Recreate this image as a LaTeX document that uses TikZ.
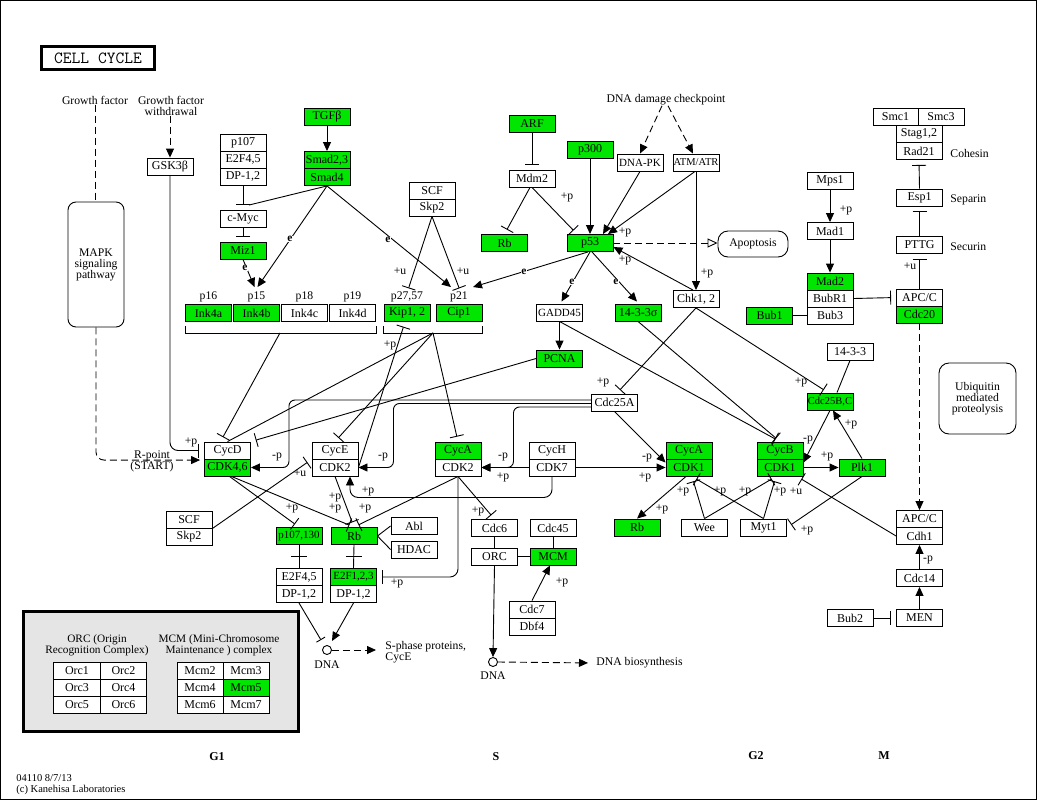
\documentclass[tikz,border=0pt]{standalone}
\usepackage{fontspec}
\setmainfont{Liberation Serif}
\usetikzlibrary{arrows.meta,calc}
\definecolor{keggreen}{RGB}{0,230,0}
\tikzset{
  gene/.style = {draw, fill = white, minimum width = 46, minimum height = 17, inner sep = 0, font = \fontsize{12}{12}\selectfont},
  hit/.style = {gene, fill = keggreen},
  snug/.style = {font = \fontsize{11}{11}\selectfont},
  tight/.style = {font = \fontsize{10.5}{10.5}\selectfont},
  txt/.style = {inner sep = 0, align = center, font = \fontsize{11.7}{11}\selectfont},
  lbl/.style = {inner sep = 0.5, font = \fontsize{11.7}{11.7}\selectfont},
  hub/.style = {draw, rounded corners = 10, align = center, inner sep = 0, font = \fontsize{11.7}{11}\selectfont},
  act/.style = {-{Triangle[length = 9pt, width = 8pt]}},
  inh/.style = {-{Bar[width = 14pt]}, shorten > = 5pt},
  dsh/.style = {dash pattern = on 7pt off 4pt}
}
\begin{document}
\begin{tikzpicture}[x = 1pt, y = -1pt, line width = 0.9pt]
\useasboundingbox (0,0) rectangle (1039,801);
\draw (0.5,0.5) rectangle (1036.5,799.5);
\node[draw, line width = 3pt, minimum width = 113, minimum height = 23, font = \ttfamily\fontsize{17}{17}\selectfont] (title) at (98,58) {CELL CYCLE};
% inputs
\node[txt] (gf) at (95,100) {Growth factor};
\node[txt] (gfw) at (171,105.5) {Growth factor\\withdrawal};
\node[hub, rounded corners = 8, minimum width = 56, minimum height = 125] (mapk) at (96,264.5) {MAPK\\signaling\\pathway};
\node[gene] (gsk) at (170,166.5) {GSK3β};
\node[txt] (rpt) at (152,461) {R-point\\(START)};
\node[gene] (p107a) at (243,142.5) {p107};
\node[gene] (e2f45a) at (243,159.5) {E2F4,5};
\node[gene] (dp12a) at (243,176.5) {DP-1,2};
\node[gene] (cmyc) at (243,219) {c-Myc};
\node[hit] (miz1) at (243,250.5) {Miz1};
\node[hit] (tgfb) at (327,117) {TGFβ};
\node[hit] (smad23) at (327,160) {Smad2,3};
\node[hit] (smad4) at (327,177) {Smad4};
% p53 module
\node[txt] (dnadmg) at (666,100) {DNA damage checkpoint};
\node[hit] (arf) at (532,123.5) {ARF};
\node[gene] (mdm2) at (532,178.5) {Mdm2};
\node[hit] (rbu) at (504.5,243) {Rb};
\node[hit] (p300) at (590,149.5) {p300};
\node[hit] (p53) at (590,243) {p53};
\node[gene, snug] (dnapk) at (640,162.5) {DNA-PK};
\node[gene, tight] (atm) at (696,162.5) {ATM/ATR};
\node[hub, minimum width = 70, minimum height = 26] (apop) at (753,244) {Apoptosis};
\node[gene] (scfu) at (432,190.5) {SCF};
\node[gene] (skp2u) at (432,207.5) {Skp2};
\foreach \n/\t/\s/\l [count = \i from 0] in {ink4a/Ink4a/hit/p16, ink4b/Ink4b/hit/p15, ink4c/Ink4c/gene/p18, ink4d/Ink4d/gene/p19}
  {\node[\s] (\n) at ({208.5+48*\i},313) {\t};
   \node[txt] (l\n) at ({208.5+48*\i},297) {\l};}
\node[hit] (kip12) at (407,313) {Kip1, 2};
\node[hit] (cip1) at (459,313) {Cip1};
\node[txt] (lkip12) at (407,297) {p27,57};
\node[txt] (lcip1) at (459,297) {p21};
\node[gene, snug] (gadd45) at (559.5,312.5) {GADD45};
\node[hit] (s1433) at (638,312.5) {14-3-3σ};
\node[gene] (chk12) at (696,299) {Chk1, 2};
\node[hit] (pcna) at (559.5,358.5) {PCNA};
% spindle checkpoint and cohesin
\node[gene] (mps1) at (830,181) {Mps1};
\node[gene] (mad1) at (830,231) {Mad1};
\node[hit] (mad2) at (830,281.5) {Mad2};
\node[gene] (bubr1) at (830,298.5) {BubR1};
\node[gene] (bub3) at (830,315.5) {Bub3};
\node[hit] (bub1) at (769.5,315.5) {Bub1};
\node[gene, minimum width = 45] (smc1) at (895.5,117) {Smc1};
\node[gene] (smc3) at (941,117) {Smc3};
\node[gene] (stag) at (919,134) {Stag1,2};
\node[gene] (rad21) at (919,151) {Rad21};
\node[gene] (esp1) at (919.5,197.5) {Esp1};
\node[gene] (pttg) at (919.5,245) {PTTG};
\node[gene] (apcc) at (919.5,297.5) {APC/C};
\node[hit] (cdc20) at (919.5,314.5) {Cdc20};
\node[txt, anchor = west] (cohesin) at (950,153) {Cohesin};
\node[txt, anchor = west] (separin) at (950,200) {Separin};
\node[txt, anchor = west] (securin) at (950,247) {Securin};
\node[hub, minimum width = 77, minimum height = 71] (ubiq) at (977.5,398.5) {Ubiquitin\\mediated\\proteolysis};
% CDK complexes
\node[gene] (cdc25a) at (614.5,402.5) {Cdc25A};
\node[gene] (s1433b) at (850,351.5) {14-3-3};
\node[hit, tight] (cdc25bc) at (830,401.5) {Cdc25B,C};
\node[gene] (cycd) at (227.5,450.5) {CycD};
\node[hit] (cdk46) at (227.5,467.5) {CDK4,6};
\node[gene] (cyce) at (335,450.5) {CycE};
\node[gene] (cdk2e) at (335,467.5) {CDK2};
\node[hit] (cyca) at (458,450.5) {CycA};
\node[gene] (cdk2a) at (458,467.5) {CDK2};
\node[gene] (cych) at (552,450.5) {CycH};
\node[gene] (cdk7) at (552,467.5) {CDK7};
\node[hit] (cyca1) at (689,450.5) {CycA};
\node[hit] (cdk1a) at (689,467.5) {CDK1};
\node[hit] (cycb) at (780,450.5) {CycB};
\node[hit] (cdk1b) at (780,467.5) {CDK1};
\node[hit] (plk1) at (862,467.5) {Plk1};
\node[gene] (apcc2) at (919.5,519) {APC/C};
\node[gene] (cdh1) at (919.5,536) {Cdh1};
\node[gene] (cdc14) at (919.5,578) {Cdc14};
\node[gene] (men) at (919.5,618) {MEN};
\node[gene] (bub2) at (850,618) {Bub2};
% G1/S targets
\node[gene] (scfl) at (189,519.5) {SCF};
\node[gene] (skp2l) at (189,536.5) {Skp2};
\node[hit, snug] (p107) at (299,536) {p107,130};
\node[hit] (rbl) at (354,536) {Rb};
\node[gene] (abl) at (414,526) {Abl};
\node[gene] (hdac) at (414,549.5) {HDAC};
\node[gene] (e2f45) at (299,577) {E2F4,5};
\node[gene] (dp12b) at (299,594) {DP-1,2};
\node[hit, snug] (e2f123) at (353.5,577) {E2F1,2,3};
\node[gene] (dp12c) at (353.5,594) {DP-1,2};
\node[gene] (cdc6) at (494.5,528) {Cdc6};
\node[gene] (cdc45) at (553,528) {Cdc45};
\node[gene] (orc) at (494.5,556.5) {ORC};
\node[hit] (mcm) at (553,556.5) {MCM};
\node[gene] (cdc7) at (532,609.5) {Cdc7};
\node[gene] (dbf4) at (532,626.5) {Dbf4};
\node[hit] (rbr) at (637,527.5) {Rb};
\node[gene] (wee) at (704.5,527.5) {Wee};
\node[gene] (myt1) at (763.5,527.5) {Myt1};
\node[draw, circle, fill = white, minimum size = 9, inner sep = 0] (dna1) at (327,650) {};
\node[txt] (dnat1) at (327,665) {DNA};
\node[txt, anchor = west, align = left] (sph) at (385,652) {S-phase proteins,\\CycE};
\node[draw, circle, fill = white, minimum size = 9, inner sep = 0] (dna2) at (493,662) {};
\node[txt] (dnat2) at (493,676) {DNA};
\node[txt, anchor = west] (dnabio) at (596,663) {DNA biosynthesis};
% connectors: inputs
\draw[dsh] (gf.south) -- (gf.south |- mapk.north);
\draw[dsh, act] (gsk.north |- gfw.south) -- (gsk.north);
\draw[dsh, act, rounded corners = 8, shorten > = 4pt] (mapk.south) |- ([yshift = -1.5pt]cdk46.north west);
\draw[inh, rounded corners = 8] (gsk.south) |- (cycd.west);
\draw[inh] (dp12a.south) -- (cmyc.north);
\draw (smad4.south) -- ([xshift = 6pt, yshift = 5pt]cmyc.north);
\draw[inh] (cmyc.south) -- (miz1.north);
\draw[act] (tgfb.south) -- (smad23.north);
\draw[act] (miz1.south) -- ([xshift = -2pt, yshift = 17pt]ink4b.north);
\draw[act] (smad4.south) -- ([xshift = 1pt, yshift = 17pt]ink4b.north);
\draw[act] (smad4.south) -- ([xshift = -8pt, yshift = 17pt]cip1.north);
% connectors: p53 module
\draw[inh] (arf.south) -- (mdm2.north);
\draw[inh] ([xshift = -2pt]mdm2.south) -- (rbu.north);
\draw[inh] (mdm2.south) -- ([xshift = -13pt]p53.north);
\draw[act] (p300.south) -- (p53.north);
\draw[act] (dnapk.south) -- ([xshift = 13pt]p53.north);
\draw[act] ([xshift = -1pt]atm.south) -- ([xshift = 18pt]p53.north);
\draw[act] (atm.south) -- (chk12.north);
\draw[dsh, act] ([xshift = -4pt]dnadmg.south) -- (dnapk.north);
\draw[dsh, act] ([xshift = 2pt]dnadmg.south) -- ([xshift = -3pt]atm.north);
\draw[act] ([xshift = -3pt]chk12.north) -- ([yshift = -4pt]p53.east);
\draw[dsh, -{Triangle[open, length = 10pt, width = 9pt]}] (p53.east) -- (p53.east -| apop.west);
\draw[act] ([xshift = -2pt]p53.south) -- ([xshift = 14pt, yshift = 17pt]cip1.north);
\draw[act] (p53.south) -- ([xshift = 2pt, yshift = 2pt]gadd45.north);
\draw[act] ([xshift = 2pt]p53.south) -- ([xshift = -1pt, yshift = 2pt]s1433.north);
\draw[inh] (skp2u.south) -- ([yshift = 11pt]kip12.north);
\draw[inh] (skp2u.south) -- ([xshift = 2pt, yshift = 11pt]cip1.north);
% CKI brackets
\draw ([yshift = -4pt]ink4a.south west) -- ([yshift = -11pt]ink4a.south west) -- ([yshift = -11pt]ink4d.south east) -- ([yshift = -4pt]ink4d.south east);
\draw ([yshift = -4pt]kip12.south west) -- ([yshift = -11pt]kip12.south west) -- ([yshift = -11pt]cip1.south east) -- ([yshift = -4pt]cip1.south east);
\coordinate (inkb) at ([yshift = -11pt]ink4b.south east);
\coordinate (kipcip) at ($(kip12.south east)!0.5!(cip1.south west) + (0,11)$);
\draw[inh] (inkb) -- ([xshift = -7pt]cycd.north);
\draw (kipcip) -- (cycd.north);
\draw[inh] (kipcip) -- (cyce.north);
\draw[inh] (kipcip) -- (cyca.north);
\draw[inh] (cdk2e.east) -- ([xshift = -2pt]kip12.south);
\draw[inh] (pcna.west) -- (cycd.north east);
% Cdc25A and CAK
\draw[act, rounded corners = 6] ([yshift = 2.5pt]cdc25a.west) -| ([xshift = 38pt]cdk46.east) -- (cdk46.east);
\draw[act, rounded corners = 6] ([yshift = -1pt]cdc25a.west) -| ([xshift = 35pt]cdk2e.east) -- (cdk2e.east);
\draw[act, rounded corners = 6] ([yshift = -4.5pt]cdc25a.west) -| ([xshift = 32pt]cdk2a.east) -- (cdk2a.east);
\draw[act] (cdk7.west) -- (cdk2a.east);
\draw[act] (cdk7.east) -- (cdk1a.west);
\draw[act] (cdc25a.south) -- ([yshift = 5pt]cdk1a.west);
\draw[act, rounded corners = 8] (cdk7.south) |- ([xshift = 15pt, yshift = -21pt]cdk2e.south) -- ([xshift = 15pt]cdk2e.south);
% pocket proteins
\draw[inh] ([xshift = 2pt]cdk46.south) -- (p107.north);
\draw[inh] ([xshift = 4pt]cdk46.south) -- (rbl.north);
\draw[inh] (cdk2e.south) -- (rbl.north);
\draw[inh] (cdk2a.south) -- (rbl.north);
\draw[inh] (scfl.south east) -- (cyce.south west);
\draw (rbl.east) -- (abl.west);
\draw (rbl.east) -- (hdac.west);
\draw (p107.south) -- (e2f45.north);
\draw (rbl.south) -- (e2f123.north);
\draw ($(p107.south)!0.5!(e2f45.north) + (-8,0)$) -- +(16,0);
\draw ($(rbl.south)!0.5!(e2f123.north) + (-8,0)$) -- +(16,0);
\draw[inh, rounded corners = 8] (cdk2a.south) |- (e2f123.east);
\draw[inh] (cdk2a.south) -- (cdc6.north);
% replication
\draw (cdc6.south) -- (orc.north);
\draw (cdc45.south) -- (mcm.north);
\draw (orc.east) -- (mcm.west);
\draw[act] (cdc7.north) -- ([xshift = -3pt]mcm.south);
\draw[act] (orc.south) -- (dna2.north);
\draw[dsh, act, shorten > = 8pt] (dna2.east) -- (dnabio.west);
\draw[act] (dp12c.south) -- ([xshift = 5pt, yshift = 9pt]dna1.center);
\draw[-{Bar[width = 10pt]}] (dp12b.south) -- ([xshift = -6pt, yshift = 10pt]dna1.center);
\draw[dsh, act, shorten > = 9pt] (dna1.east) -- (sph.west |- dna1.east);
% G2/M
\draw[act] ([xshift = -3pt]cdk1a.south) -- (rbr.north);
\draw[inh] (wee.north) -- ([xshift = 3pt]cdk1a.south);
\draw[inh] (wee.north) -- ([xshift = -4pt]cdk1b.south);
\draw[inh] (myt1.north) -- ([xshift = 3pt]cdk1a.south);
\draw[inh] (myt1.north) -- ([xshift = -4pt]cdk1b.south);
\draw[inh] (cdh1.west) -- ([xshift = 17pt]cdk1b.south);
\draw[inh] (plk1.south) -- (myt1.east);
\draw[act] (cdk1b.east) -- (plk1.west);
\draw[act] (cdc25bc.south) -- ([yshift = -4pt]cdk1b.north east);
\draw[act] (plk1.north) -- ([xshift = 3pt]cdc25bc.south);
\draw (s1433b.south) -- ([xshift = 7pt]cdc25bc.north);
\draw[inh] (chk12.south) -- ([xshift = -2pt]cdc25bc.north);
\draw[inh] (chk12.south) -- ([xshift = 2pt]cdc25a.north);
\draw[inh] (s1433.south) -- (cycb.north);
\draw[inh] (gadd45.south) -- (cycb.north);
\draw[act] (gadd45.south) -- (pcna.north);
% spindle checkpoint
\draw[act] (mps1.south) -- (mad1.north);
\draw[act] (mad1.south) -- (mad2.north);
\draw (bub1.east) -- (bub3.west);
\draw[inh] (bubr1.east) -- (apcc.west);
\draw[inh] (apcc.north) -- (pttg.south);
\draw[inh] (pttg.north) -- (esp1.south);
\draw[inh] (esp1.north) -- (rad21.south);
\draw[dsh, act] (cdc20.south) -- (apcc2.north);
\draw[act] (cdc14.north) -- (cdh1.south);
\draw[act] (men.north) -- (cdc14.south);
\draw[inh] (bub2.east) -- (men.west);
% edge labels
\foreach \x/\y/\t [count = \i] in {191/442/+p, 277/457/-p, 300/473/+u, 383/457/-p, 503/457/-p, 503/477/+p,
  368/491/+p, 292/508/+p, 335/508/+p, 335/497/+p, 365/508/+p, 397/583/+p, 478/511/+p, 562/582/+p,
  647/458/-p, 645/477/+p, 662/509/+p, 683/491/+p, 720/491/+p, 745/491/+p, 780/491/+p, 796/491/+u,
  807/530/+p, 808/440/-p, 827/456/+p, 851/424/+p, 801/382/+p, 603/382/+p, 390/345/+p, 400/271/+u,
  463/271/+u, 567/197/+p, 625/232/+p, 625/260/+p, 707/273/+p, 846/210/+p, 910/266/+u, 928/560/-p}
  \node[lbl] (tag\i) at (\x,\y) {\t};
\foreach \x/\y [count = \i] in {245/268, 290/239, 388/240, 524/272, 572/282, 616/282}
  \node[lbl, fill = white, font = \fontsize{11.5}{11.5}\selectfont\bfseries] (e\i) at (\x,\y) {e};
% legend
\node[draw, fill = gray!20, line width = 3pt, minimum width = 275, minimum height = 120, inner sep = 0] (legend) at (161,671.5) {};
\node[txt, font = \fontsize{11.3}{11}\selectfont] (orct) at (97,645.5) {ORC (Origin\\Recognition Complex)};
\node[txt, font = \fontsize{11.3}{11}\selectfont] (mcmt) at (219,645.5) {MCM (Mini-Chromosome\\Maintenance ) complex};
\foreach \t [count = \i from 0] in {Orc1, Orc2, Orc3, Orc4, Orc5, Orc6}
  {\pgfmathtruncatemacro\c{mod(\i,2)}
   \pgfmathtruncatemacro\r{div(\i,2)}
   \node[gene, minimum width = 46.5] (orc\i) at ({77+46.5*\c},{670.5+17*\r}) {\t};}
\foreach \t/\s [count = \i from 0] in {Mcm2/gene, Mcm3/gene, Mcm4/gene, Mcm5/hit, Mcm6/gene, Mcm7/gene}
  {\pgfmathtruncatemacro\c{mod(\i,2)}
   \pgfmathtruncatemacro\r{div(\i,2)}
   \node[\s] (mcm\i) at ({200+46*\c},{670.5+17*\r}) {\t};}
% phases and footer
\node[font = \fontsize{12}{12}\selectfont\bfseries] (pg1) at (217,757) {G1};
\node[font = \fontsize{12}{12}\selectfont\bfseries] (ps) at (496,757) {S};
\node[font = \fontsize{12}{12}\selectfont\bfseries] (pg2) at (756,756) {G2};
\node[font = \fontsize{12}{12}\selectfont\bfseries] (pm) at (884,756) {M};
\node[txt, anchor = west, align = left, font = \fontsize{10.5}{11}\selectfont] (foot) at (16,784.5) {04110 8/7/13\\(c) Kanehisa Laboratories};
\end{tikzpicture}
\end{document}
